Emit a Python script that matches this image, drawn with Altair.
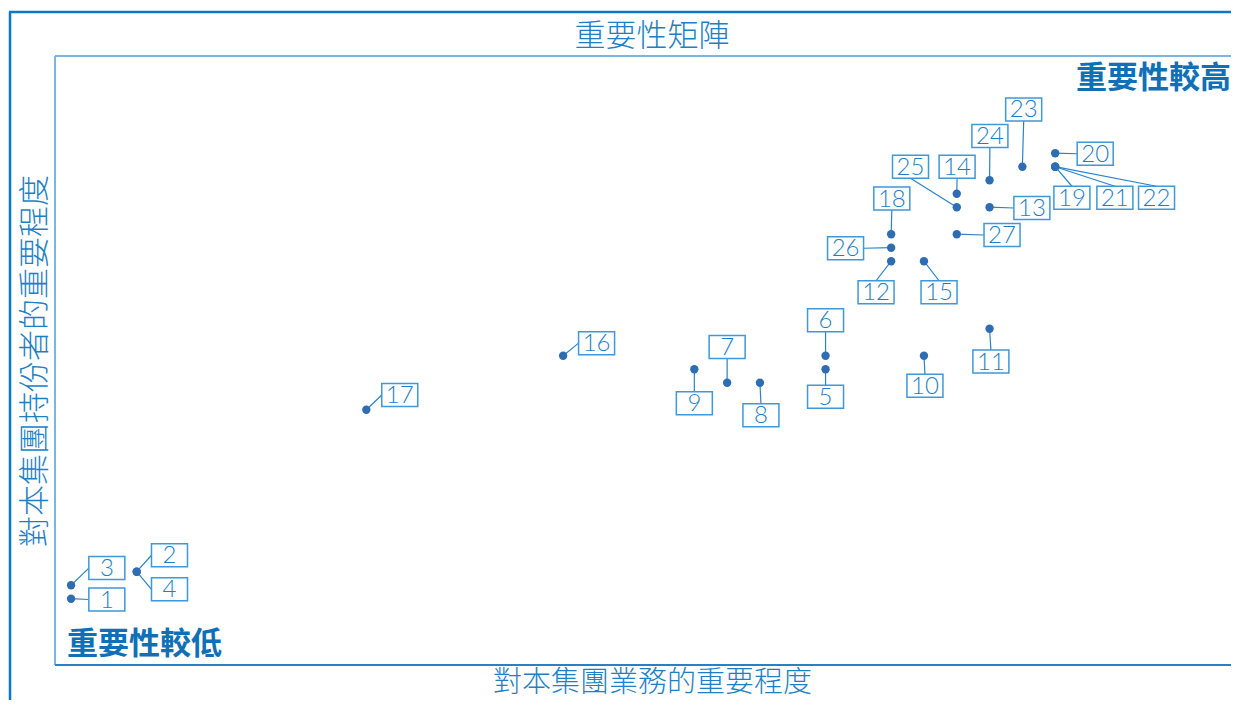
import altair as alt
import pandas as pd

# ---- data (issue ids, business importance, stakeholder importance) ----
ids = [str(i) for i in range(1, 28)]
biz_score = [0, 2, 0, 2, 23, 23, 20, 21, 19, 26, 28, 25, 28, 27, 26, 15, 9, 25, 30, 30, 30, 30, 29, 28, 27, 25, 27]
stk_score = [0, 2, 1, 2, 17, 18, 16, 16, 17, 18, 20, 25, 29, 30, 25, 18, 14, 27, 32, 33, 32, 32, 32, 31, 29, 26, 27]
# label (callout box) centres, in the same score units
label_x = [1.09, 3.0, 1.09, 3.0, 23.0, 23.0, 20.0, 21.03, 19.0, 26.03, 28.04, 24.54, 29.29, 27.01, 26.46,
           16.02, 10.02, 25.02, 30.51, 31.22, 31.82, 33.09, 29.04, 28.01, 25.59, 23.61, 28.38]
label_y = [-0.06, 3.22, 2.27, 0.70, 14.96, 20.62, 18.64, 13.59, 14.47, 15.78, 17.57, 22.70, 28.94, 31.99, 22.70,
           18.93, 15.09, 29.64, 29.70, 32.96, 29.70, 29.70, 36.24, 34.27, 31.99, 25.96, 26.94]
# side of the callout box that the leader line meets
leader_side = ["L", "L", "L", "L", "T", "B", "B", "T", "T", "T", "T", "T", "L", "B", "T",
               "L", "L", "B", "T", "L", "T", "T", "B", "B", "B", "R", "L"]

title_text = "重要性矩陣"
x_title = "對本集團業務的重要程度"
y_title = "對本集團持份者的重要程度"
high_text = "重要性較高"
low_text = "重要性較低"

# ---- layout / style ----
W, H = 1176, 609
x_dom = [-0.49, 35.36]
y_dom = [-4.91, 40.2]
BOX_W, BOX_H = 36, 23
CJK = "Noto Sans CJK TC"
TXT = "#1f7fc4"
BOLD_TXT = "#0f70b8"

ux = W / (x_dom[1] - x_dom[0])
uy = H / (y_dom[1] - y_dom[0])
hx = (BOX_W / 2) / ux
hy = (BOX_H / 2) / uy

ex, ey = [], []
for lx, ly, s in zip(label_x, label_y, leader_side):
    if s == "L":
        ex.append(lx - hx); ey.append(ly)
    elif s == "R":
        ex.append(lx + hx); ey.append(ly)
    elif s == "T":
        ex.append(lx); ey.append(ly + hy)
    else:
        ex.append(lx); ey.append(ly - hy)

df = pd.DataFrame({"id": ids, "x": biz_score, "y": stk_score,
                   "lx": label_x, "ly": label_y, "ex": ex, "ey": ey})

xs = alt.Scale(domain=x_dom, nice=False, zero=False)
ys = alt.Scale(domain=y_dom, nice=False, zero=False)
xaxis = alt.Axis(title=x_title, labels=False, ticks=False, domain=False, grid=False,
                 titleFont=CJK, titleFontSize=29, titleFontWeight=300, titleColor=TXT,
                 titlePadding=3, titleX=597)
yaxis = alt.Axis(title=y_title, labels=False, ticks=False, domain=False, grid=False,
                 titleFont=CJK, titleFontSize=31, titleFontWeight=300, titleColor=TXT,
                 titlePadding=4)

def X(f):
    return alt.X(f"{f}:Q", scale=xs, axis=xaxis)

def Y(f):
    return alt.Y(f"{f}:Q", scale=ys, axis=yaxis)

one = pd.DataFrame({"a": [0]})

frame = alt.layer(
    alt.Chart(one).mark_rule(color="#7ab6e0", strokeWidth=2).encode(
        x=alt.value(0), y=alt.value(0), y2=alt.value(H)),
    alt.Chart(one).mark_rule(color="#7ab6e0", strokeWidth=2).encode(
        x=alt.value(0), x2=alt.value(W + 5), y=alt.value(0)),
    alt.Chart(one).mark_rule(color="#2b80c3", strokeWidth=2).encode(
        x=alt.value(0), x2=alt.value(W + 5), y=alt.value(H)),
    alt.Chart(one).mark_rule(color="#0b78c6", strokeWidth=2.5).encode(
        x=alt.value(-45), y=alt.value(-44), y2=alt.value(H + 80)),
    alt.Chart(one).mark_rule(color="#0b78c6", strokeWidth=2.5).encode(
        x=alt.value(-46), x2=alt.value(W + 20), y=alt.value(-44)),
)

base = alt.Chart(df)

leaders = base.mark_rule(color="#2b83c6", strokeWidth=1.2).encode(
    x=X("x"), y=Y("y"), x2="ex:Q", y2="ey:Q")

box_path = "M-1,-{h} L1,-{h} L1,{h} L-1,{h} Z".format(h=round(BOX_H / BOX_W, 4))
boxes = base.mark_point(shape=box_path, filled=True, fill="white", stroke="#3f98d8",
                        strokeWidth=1.5, size=BOX_W * BOX_W, opacity=1).encode(
    x=X("lx"), y=Y("ly"))

labels = base.mark_text(font="Lato", fontSize=24, fontWeight=300, color=TXT,
                        baseline="middle", align="center", dy=1).encode(
    x=X("lx"), y=Y("ly"), text="id:N")

points = base.mark_circle(size=70, color="#2f6db3", opacity=1).encode(
    x=X("x"), y=Y("y"))

hi = alt.Chart(pd.DataFrame({"t": [high_text]})).mark_text(
    font=CJK, fontSize=31, fontWeight="bold", color=BOLD_TXT, align="right", baseline="middle"
).encode(text="t:N", x=alt.value(W), y=alt.value(23))

lo = alt.Chart(pd.DataFrame({"t": [low_text]})).mark_text(
    font=CJK, fontSize=31, fontWeight="bold", color=BOLD_TXT, align="left", baseline="middle"
).encode(text="t:N", x=alt.value(12), y=alt.value(H - 20))

ttl = alt.Chart(pd.DataFrame({"t": [title_text]})).mark_text(
    font=CJK, fontSize=31, fontWeight=300, color=TXT, align="center", baseline="middle"
).encode(text="t:N", x=alt.value(597), y=alt.value(-19))

chart = alt.layer(leaders, boxes, labels, points, frame, hi, lo, ttl).properties(
    width=W, height=H,
    autosize=alt.AutoSizeParams(type="none"),
    padding={"left": 47, "top": 48, "right": 0, "bottom": 35},
).configure_view(stroke=None).configure(background="white")

chart.save("out.html", embed_options={"renderer": "svg", "actions": False})
